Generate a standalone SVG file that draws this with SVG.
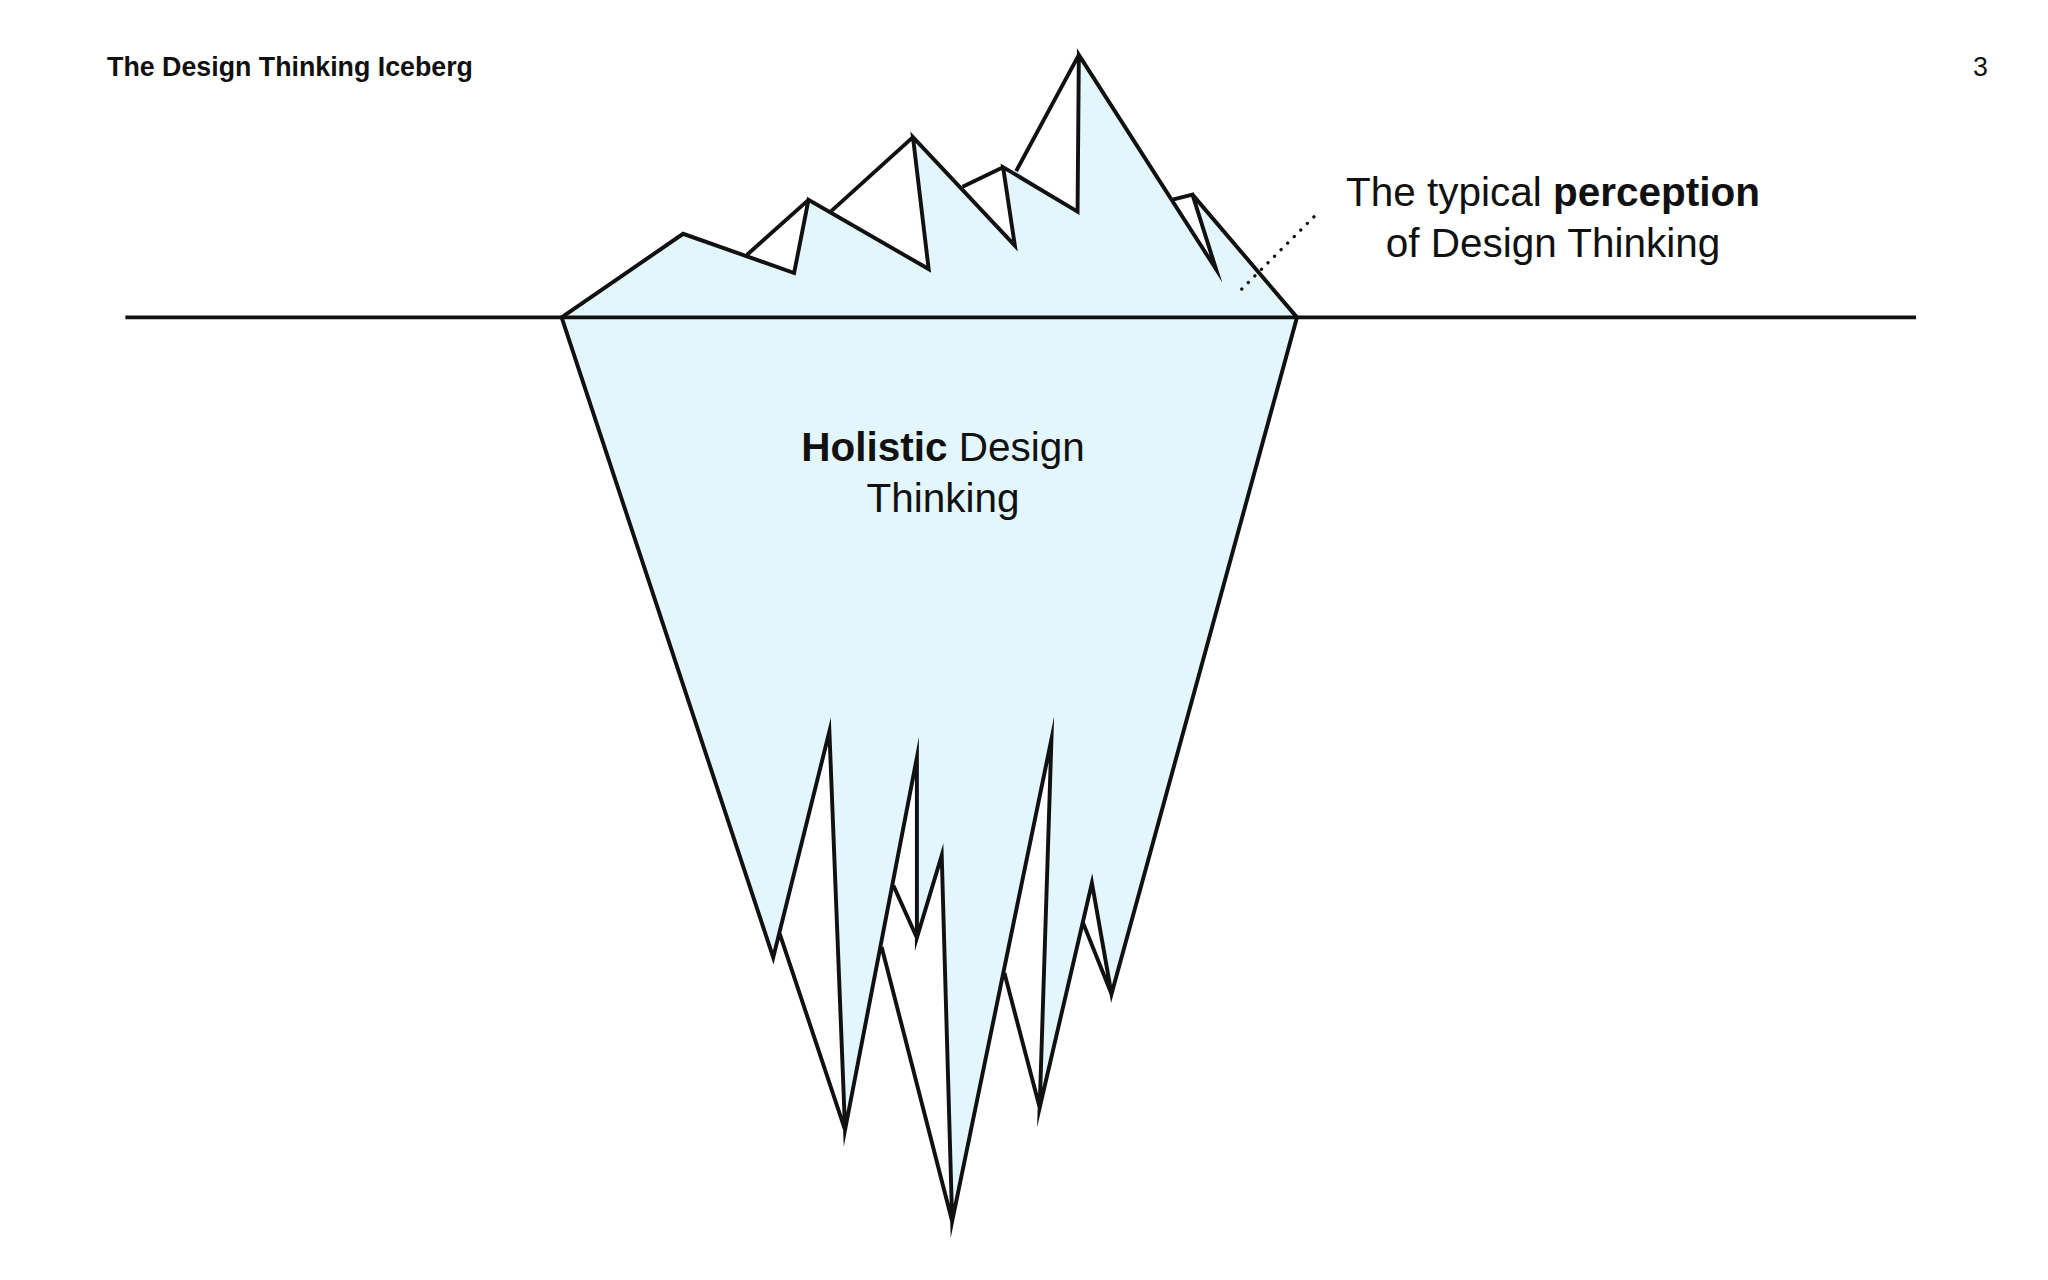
<svg xmlns="http://www.w3.org/2000/svg" width="2048" height="1280" viewBox="0 0 2048 1280">
<style>
.ln{fill:none;stroke:#111;stroke-width:3;stroke-linejoin:miter;stroke-miterlimit:20}
.ice{fill:#e3f6fb;stroke:none}
.wh{fill:#fff;stroke:none}
.t{font-family:"Liberation Sans",Arial,sans-serif;fill:#111}
</style>
<rect width="2048" height="1280" fill="#fff"/>
<g transform="scale(1.30612)">
<g id="iceberg">
<polygon class="ice" points="430,243 523,179 572,195 619,153 636,162 699,105 737,143 768,128 778,131 826,42 897,153 913,149 993,243"/>
<polygon class="wh" points="572,195 619,153 608,209"/>
<polygon class="wh" points="636,162 699,105 711,206"/>
<polygon class="wh" points="737,143 768,128 777,188"/>
<polygon class="wh" points="778,131 826,42 825,162"/>
<polygon class="wh" points="897,153 913,149 931,206"/>
<polygon class="ice" points="430,243 993,243 851,761 829,706 796,848 769,745 729,935 675,725 647,865 597,715 592,733"/>
<polygon class="wh" points="597,715 635,560 647,865"/>
<polygon class="wh" points="675,725 702,580 702,718 721,655 729,935"/>
<polygon class="wh" points="769,745 805,566 796,848"/>
<polygon class="wh" points="829,706 836,676 851,761"/>
</g>
<g id="connectors">
<line class="ln" x1="96" y1="243" x2="1467" y2="243"/>
<path class="ln" d="M430,243 L523,179 L608,209 L619,153 L711,206 L699,105 L777,188 L768,128 L825,162 L826,42 L931,206 L913,149 L897,153 M913,149 L993,243 M572,195 L619,153 M636,162 L699,105 M737,143 L768,128 M778,131 L826,42"/>
<path class="ln" d="M430,243 L592,733 L635,560 L647,865 L702,580 L702,718 L721,655 L729,935 L805,566 L796,848 L836,676 L851,761 L993,243 M597,715 L647,865 M684,678 L702,718 M675,725 L729,935 M769,745 L796,848 M829,706 L851,761"/>
<line x1="1006" y1="166" x2="948" y2="224" stroke="#111" stroke-width="2.5" stroke-dasharray="0.1 7" stroke-linecap="round"/>
</g>
<g id="labels">
<text class="t" x="82" y="58" font-size="20.5" font-weight="bold">The Design Thinking Iceberg</text>
<text class="t" x="1522" y="58" font-size="20.5" text-anchor="end">3</text>
<text class="t" x="1189" y="158" font-size="31" text-anchor="middle">The typical <tspan font-weight="bold">perception</tspan></text>
<text class="t" x="1189" y="197" font-size="31" text-anchor="middle">of Design Thinking</text>
<text class="t" x="722" y="353" font-size="31" text-anchor="middle"><tspan font-weight="bold">Holistic</tspan> Design</text>
<text class="t" x="722" y="392" font-size="31" text-anchor="middle">Thinking</text>
</g>
</g>
</svg>
